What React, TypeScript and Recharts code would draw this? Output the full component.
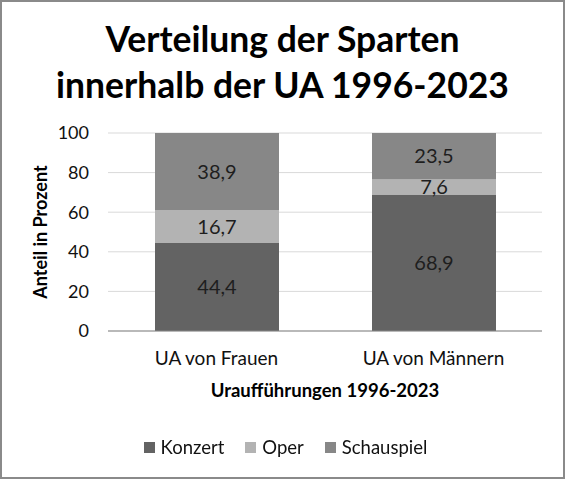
import React from 'react';
import { BarChart, Bar, XAxis, YAxis, CartesianGrid, LabelList, Label } from 'recharts';

// Data
const categories = ['UA von Frauen', 'UA von Männern'];
const konzert = [44.4, 68.9];
const oper = [16.7, 7.6];
const schauspiel = [38.9, 23.5];
const yTicks = [0, 20, 40, 60, 80, 100];

const seriesList = [
  { key: 'Konzert', values: konzert, color: '#636363' },
  { key: 'Oper', values: oper, color: '#b3b3b3' },
  { key: 'Schauspiel', values: schauspiel, color: '#878787' },
];

const chartData = categories.map((name, i) => {
  const row: Record<string, string | number> = { name };
  seriesList.forEach((s) => {
    row[s.key] = s.values[i];
  });
  return row;
});

const FONT = 'Lato, "Open Sans", sans-serif';
const fmt = (v: unknown) => Number(v).toFixed(1).replace('.', ',');

export default function App() {
  return (
    <div style={{ position: 'fixed', left: 0, top: 0, width: 565, height: 479, background: '#fff', fontFamily: FONT }}>
      {/* Title */}
      <div
        style={{
          position: 'absolute',
          left: 0,
          top: 16,
          width: 565,
          textAlign: 'center',
          fontSize: 35.5,
          fontWeight: 700,
          lineHeight: '46px',
          color: '#000',
        }}
      >
        <div>Verteilung der Sparten</div>
        <div>innerhalb der UA 1996-2023</div>
      </div>

      <div style={{ position: 'absolute', left: 0, top: 0 }}>
        <BarChart
          width={565}
          height={479}
          data={chartData}
          margin={{ top: 133, right: 23, bottom: 78, left: 0 }}
          barSize={124}
        >
          <CartesianGrid vertical={false} stroke="#d9d9d9" />
          <YAxis
            width={108}
            domain={[0, 100]}
            ticks={yTicks}
            axisLine={false}
            tickLine={false}
            tickSize={0}
            tickMargin={19}
            tick={{ fontSize: 18, fill: '#111', fontFamily: FONT }}
          >
            <Label
              content={({ viewBox }: any) => (
                <text
                  x={47}
                  y={viewBox.y + viewBox.height / 2}
                  transform={`rotate(-90 47 ${viewBox.y + viewBox.height / 2})`}
                  textAnchor="middle"
                  fontSize={18}
                  fontWeight={700}
                  fontFamily={FONT}
                  fill="#000"
                >
                  Anteil in Prozent
                </text>
              )}
            />
          </YAxis>
          <XAxis
            dataKey="name"
            height={70}
            axisLine={{ stroke: '#868686' }}
            tickLine={false}
            tickSize={0}
            tickMargin={21}
            tick={{ fontSize: 19, fill: '#111', fontFamily: FONT }}
          >
            <Label
              content={({ viewBox }: any) => (
                <text
                  x={viewBox.x + viewBox.width / 2}
                  y={397}
                  textAnchor="middle"
                  fontSize={18.5}
                  fontWeight={700}
                  fontFamily={FONT}
                  fill="#000"
                >
                  Uraufführungen 1996-2023
                </text>
              )}
            />
          </XAxis>
          {seriesList.map((s) => (
            <Bar key={s.key} dataKey={s.key} stackId="a" fill={s.color} isAnimationActive={false}>
              <LabelList
                dataKey={s.key}
                position="center"
                formatter={fmt}
                style={{ fontSize: 20, fill: '#1e1e1e', fontFamily: FONT }}
              />
            </Bar>
          ))}
        </BarChart>
      </div>

      {/* Legend */}
      <div
        style={{
          position: 'absolute',
          left: 0,
          top: 436,
          width: 571,
          display: 'flex',
          justifyContent: 'center',
          fontSize: 18.5,
          lineHeight: '22px',
          color: '#111',
        }}
      >
        {seriesList.map((s, i) => (
          <div key={s.key} style={{ display: 'flex', alignItems: 'center', marginLeft: i === 0 ? 0 : 21 }}>
            <span style={{ display: 'inline-block', width: 11, height: 11, background: s.color, marginRight: 6 }} />
            <span>{s.key}</span>
          </div>
        ))}
      </div>

      {/* Outer border */}
      <div
        style={{
          position: 'absolute',
          left: 0,
          top: 0,
          width: 565,
          height: 479,
          boxSizing: 'border-box',
          border: '2px solid #8a8a8a',
          pointerEvents: 'none',
        }}
      />
    </div>
  );
}
